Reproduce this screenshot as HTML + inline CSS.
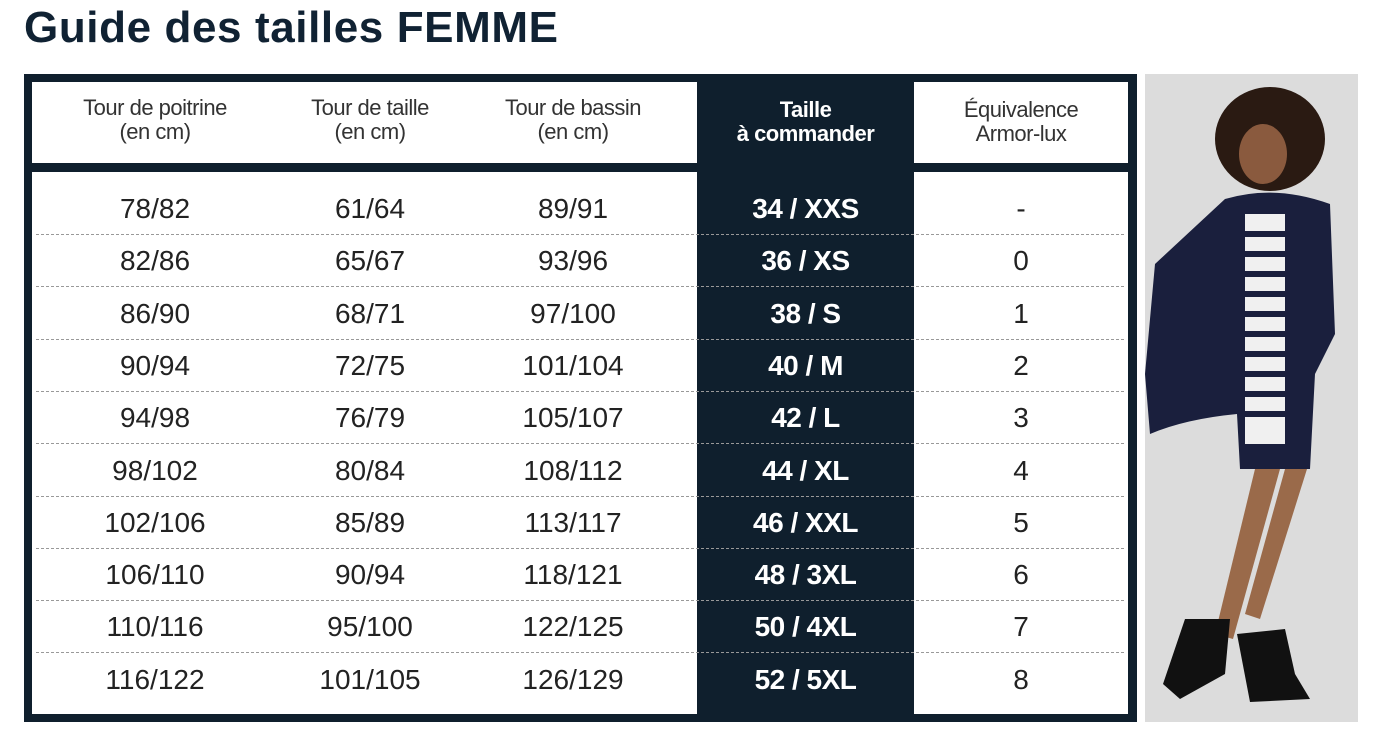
<!DOCTYPE html>
<html><head><meta charset="utf-8"><style>
body{margin:0;width:1378px;height:740px;background:#fff;position:relative;overflow:hidden;font-family:"Liberation Sans",sans-serif;}
.a{position:absolute}
h1{position:absolute;left:24px;top:3px;margin:0;font-size:44px;font-weight:bold;color:#102233;letter-spacing:0.6px}
.c{position:absolute;text-align:center;font-size:28px;color:#222;line-height:30px}
.h{position:absolute;text-align:center;font-size:22px;color:#333;line-height:24px;letter-spacing:-0.5px}
.w{color:#fff;font-weight:bold;letter-spacing:-0.5px}
.d{position:absolute;height:0;border-top:1px dashed #999}
</style></head><body>
<h1>Guide des tailles FEMME</h1>
<div class="a" style="left:24px;top:74px;width:1113px;height:648px;background:#0f1f2d"></div>
<div class="a" style="left:32px;top:82px;width:665px;height:81px;background:#fff"></div>
<div class="a" style="left:914px;top:82px;width:214px;height:81px;background:#fff"></div>
<div class="a" style="left:32px;top:172px;width:665px;height:542px;background:#fff"></div>
<div class="a" style="left:914px;top:172px;width:214px;height:542px;background:#fff"></div>
<div class="h" style="left:32px;width:246px;top:96px">Tour de poitrine<br>(en cm)</div>
<div class="h" style="left:270px;width:200px;top:96px">Tour de taille<br>(en cm)</div>
<div class="h" style="left:473px;width:200px;top:96px">Tour de bassin<br>(en cm)</div>
<div class="h w" style="left:697px;width:217px;top:98px">Taille<br>à commander</div>
<div class="h" style="left:914px;width:214px;top:98px">Équivalence<br>Armor-lux</div>
<div id="rows"></div>
<div class="a" style="left:1145px;top:74px;width:213px;height:648px;background:#dcdcdc;overflow:hidden">
<svg width="213" height="648" viewBox="0 0 213 648">
<ellipse cx="125" cy="65" rx="55" ry="52" fill="#2a1a12"/>
<ellipse cx="118" cy="80" rx="24" ry="30" fill="#8a5a3e"/>
<path d="M80 125 Q130 110 185 130 L190 260 L170 300 L165 395 L95 395 L92 340 Q40 345 5 360 L0 300 L10 190 Z" fill="#1a1f3d"/>
<rect x="100" y="140" width="40" height="230" fill="#f0f0f0"/>
<g stroke="#1a1f3d" stroke-width="6"><line x1="100" y1="160" x2="140" y2="160"/><line x1="100" y1="180" x2="140" y2="180"/><line x1="100" y1="200" x2="140" y2="200"/><line x1="100" y1="220" x2="140" y2="220"/><line x1="100" y1="240" x2="140" y2="240"/><line x1="100" y1="260" x2="140" y2="260"/><line x1="100" y1="280" x2="140" y2="280"/><line x1="100" y1="300" x2="140" y2="300"/><line x1="100" y1="320" x2="140" y2="320"/><line x1="100" y1="340" x2="140" y2="340"/></g>
<path d="M110 395 L70 560 L88 565 L135 395 Z" fill="#9a6a4a"/>
<path d="M140 395 L100 540 L115 545 L162 395 Z" fill="#9a6a4a"/>
<path d="M40 545 L85 545 L80 600 L35 625 L18 610 Z" fill="#111"/>
<path d="M92 560 L140 555 L150 600 L165 625 L105 628 Z" fill="#111"/>
</svg></div>
<script>
var d=[["78/82","61/64","89/91","34 / XXS","-"],["82/86","65/67","93/96","36 / XS","0"],["86/90","68/71","97/100","38 / S","1"],["90/94","72/75","101/104","40 / M","2"],["94/98","76/79","105/107","42 / L","3"],["98/102","80/84","108/112","44 / XL","4"],["102/106","85/89","113/117","46 / XXL","5"],["106/110","90/94","118/121","48 / 3XL","6"],["110/116","95/100","122/125","50 / 4XL","7"],["116/122","101/105","126/129","52 / 5XL","8"]];
var cx=[[32,246],[270,200],[473,200],[697,217],[914,214]],h="";
for(var i=0;i<10;i++){var y=209+i*52.3;
for(var j=0;j<5;j++){h+='<div class="c'+(j==3?' w':'')+'" style="left:'+cx[j][0]+'px;width:'+cx[j][1]+'px;top:'+(y-15)+'px">'+d[i][j]+'</div>';}
if(i<9)h+='<div class="d" style="left:36px;width:1088px;top:'+(y+25)+'px"></div>';}
document.getElementById("rows").innerHTML=h;
</script>
</body></html>
